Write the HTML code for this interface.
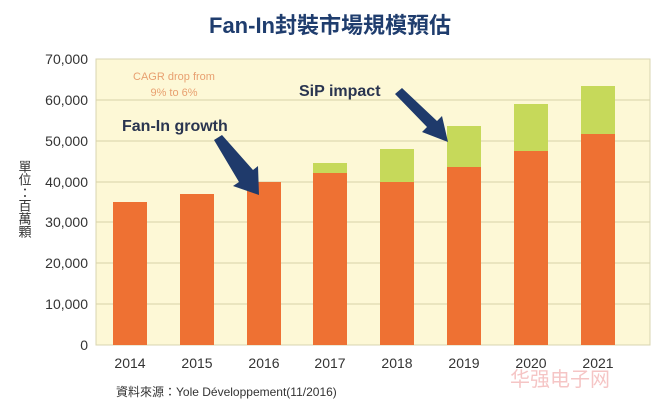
<!DOCTYPE html>
<html><head><meta charset="utf-8"><style>
body{margin:0;background:#fff;}
svg{display:block;font-family:"Liberation Sans","Noto Sans CJK TC",sans-serif;}
</style></head><body>
<svg width="660" height="411" viewBox="0 0 660 411">
<text x="330" y="33" text-anchor="middle" font-size="22" font-weight="bold" fill="#1f3d6e">Fan-In封裝市場規模預估</text>
<rect x="96" y="59" width="554" height="286" fill="#fdf8d6" stroke="#d8d4b0"/>
<g stroke="#d8d2a8" stroke-width="1">
<line x1="96" x2="650" y1="100" y2="100"/><line x1="96" x2="650" y1="141" y2="141"/>
<line x1="96" x2="650" y1="182" y2="182"/><line x1="96" x2="650" y1="222" y2="222"/>
<line x1="96" x2="650" y1="263" y2="263"/><line x1="96" x2="650" y1="304" y2="304"/>
</g>
<g fill="#ee7133">
<rect x="113" y="202" width="34" height="143"/>
<rect x="180" y="194" width="34" height="151"/>
<rect x="247" y="182" width="34" height="163"/>
<rect x="313" y="173" width="34" height="172"/>
<rect x="380" y="182" width="34" height="163"/>
<rect x="447" y="167" width="34" height="178"/>
<rect x="514" y="151" width="34" height="194"/>
<rect x="581" y="134" width="34" height="211"/>
</g>
<g fill="#c6d95a">
<rect x="313" y="163" width="34" height="10"/>
<rect x="380" y="149" width="34" height="33"/>
<rect x="447" y="126" width="34" height="41"/>
<rect x="514" y="104" width="34" height="47"/>
<rect x="581" y="86" width="34" height="48"/>
</g>
<g font-size="14" fill="#333" text-anchor="end">
<text x="88" y="64">70,000</text><text x="88" y="105">60,000</text><text x="88" y="146">50,000</text>
<text x="88" y="187">40,000</text><text x="88" y="227">30,000</text><text x="88" y="268">20,000</text>
<text x="88" y="309">10,000</text><text x="88" y="350">0</text>
</g>
<g font-size="14" fill="#333" text-anchor="middle">
<text x="130" y="368">2014</text><text x="197" y="368">2015</text><text x="264" y="368">2016</text>
<text x="330" y="368">2017</text><text x="397" y="368">2018</text><text x="464" y="368">2019</text>
<text x="531" y="368">2020</text><text x="598" y="368">2021</text>
</g>
<text x="24" y="160" font-size="13" fill="#333" writing-mode="tb">單位：百萬顆</text>
<text x="174" y="80" font-size="11" fill="#e8a070" text-anchor="middle">CAGR drop from</text>
<text x="174" y="96" font-size="11" fill="#e8a070" text-anchor="middle">9% to 6%</text>
<text x="122" y="131" font-size="16" font-weight="bold" fill="#2a3550">Fan-In growth</text>
<text x="299" y="96" font-size="16" font-weight="bold" fill="#2a3550">SiP impact</text>
<g fill="#1f3a6b">
<polygon points="214,140 222,135 253,170 258,166 259,195 233,186 239,182"/>
<polygon points="395,94 402,88 437,121 442,116 448,142 422,132 427,127"/>
</g>
<text x="116" y="396" font-size="12" fill="#333">資料來源：Yole Développement(11/2016)</text>
<text x="560" y="386" font-size="20" fill="#f0a0a0" text-anchor="middle" opacity="0.6">华强电子网</text>
</svg>
</body></html>
